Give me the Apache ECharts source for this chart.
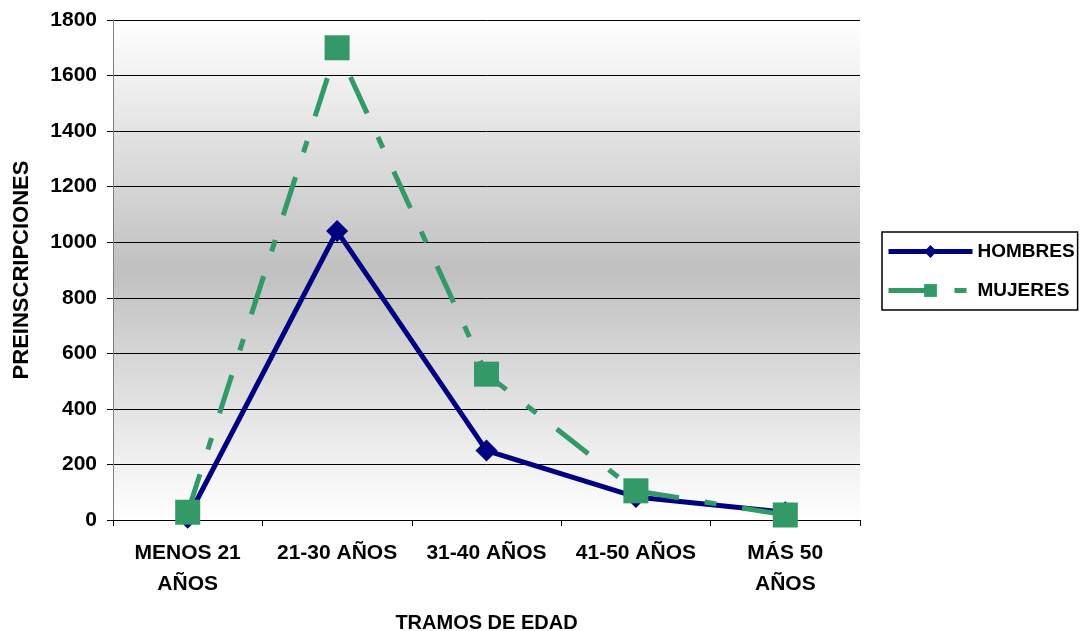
<!DOCTYPE html>
<html>
<head>
<meta charset="utf-8">
<script src="https://cdn.jsdelivr.net/npm/echarts@6/dist/echarts.min.js"></script>
<style>html,body{margin:0;padding:0;background:#fff}#c{width:1081px;height:631px}</style>
</head>
<body>
<div id="c"></div>
<script>
var categories = ["MENOS 21\nAÑOS", "21-30 AÑOS", "31-40 AÑOS", "41-50 AÑOS", "MÁS 50\nAÑOS"];
var hombres = [8, 1040, 250, 83, 28];
var mujeres = [28, 1700, 525, 105, 18];
var yTicks = [0, 200, 400, 600, 800, 1000, 1200, 1400, 1600, 1800];

var FONT = '"Liberation Sans", Arial, sans-serif';
var chart = echarts.init(document.getElementById('c'), null, {renderer: 'canvas'});
chart.setOption({
  animation: false,
  backgroundColor: '#ffffff',
  grid: {
    left: 113, right: 221, top: 20, bottom: 111,
    outerBoundsMode: 'none',
    containLabel: false,
    show: true,
    borderWidth: 0,
    backgroundColor: new echarts.graphic.LinearGradient(0, 0, 0, 1, [
      {offset: 0, color: '#ffffff'},
      {offset: 0.5, color: '#c0c0c0'},
      {offset: 1, color: '#ffffff'}
    ])
  },
  legend: {
    orient: 'vertical',
    left: 882, top: 232,
    padding: [10, 3, 10, 4],
    itemGap: 20,
    itemWidth: 84, itemHeight: 16,
    borderColor: '#000', borderWidth: 1.5,
    backgroundColor: '#ffffff',
    lineStyle: {width: 5},
    textStyle: {fontFamily: FONT, fontWeight: 'bold', fontSize: 19, color: '#000'},
    data: ['HOMBRES', 'MUJERES']
  },
  xAxis: {
    type: 'category',
    data: categories,
    boundaryGap: true,
    name: 'TRAMOS DE EDAD',
    nameLocation: 'middle',
    nameGap: 93,
    nameTextStyle: {fontFamily: FONT, fontWeight: 'bold', fontSize: 20, color: '#000'},
    axisLine: {lineStyle: {color: '#000', width: 1}},
    axisTick: {show: true, alignWithLabel: false, length: 6, lineStyle: {color: '#000'}},
    axisLabel: {fontFamily: FONT, fontWeight: 'bold', fontSize: 21, color: '#000', margin: 18, lineHeight: 31, interval: 0},
    splitLine: {show: false}
  },
  yAxis: {
    type: 'value',
    min: 0, max: 1800, interval: 200,
    name: 'PREINSCRIPCIONES',
    nameLocation: 'middle',
    nameGap: 80,
    nameRotate: 90,
    nameTextStyle: {fontFamily: FONT, fontWeight: 'bold', fontSize: 22, color: '#000'},
    axisLine: {show: true, lineStyle: {color: '#808080', width: 1}},
    axisTick: {show: true, length: 6, lineStyle: {color: '#000'}},
    axisLabel: {fontFamily: FONT, fontWeight: 'bold', fontSize: 21, color: '#000', margin: 16,
      formatter: function (v) { return yTicks.indexOf(v) >= 0 ? String(v) : ''; }},
    splitLine: {show: true, lineStyle: {color: '#000', width: 1}}
  },
  series: [
    {
      name: 'HOMBRES', type: 'line', data: hombres,
      symbol: 'diamond', symbolSize: 22,
      itemStyle: {color: '#000080'},
      lineStyle: {color: '#000080', width: 5},
      z: 3
    },
    {
      name: 'MUJERES', type: 'line', data: mujeres,
      symbol: 'rect', symbolSize: 25,
      itemStyle: {color: '#339966'},
      lineStyle: {color: '#339966', width: 5, type: [40, 26, 12, 26], cap: 'butt'},
      z: 4
    }
  ]
});
</script>
</body>
</html>
